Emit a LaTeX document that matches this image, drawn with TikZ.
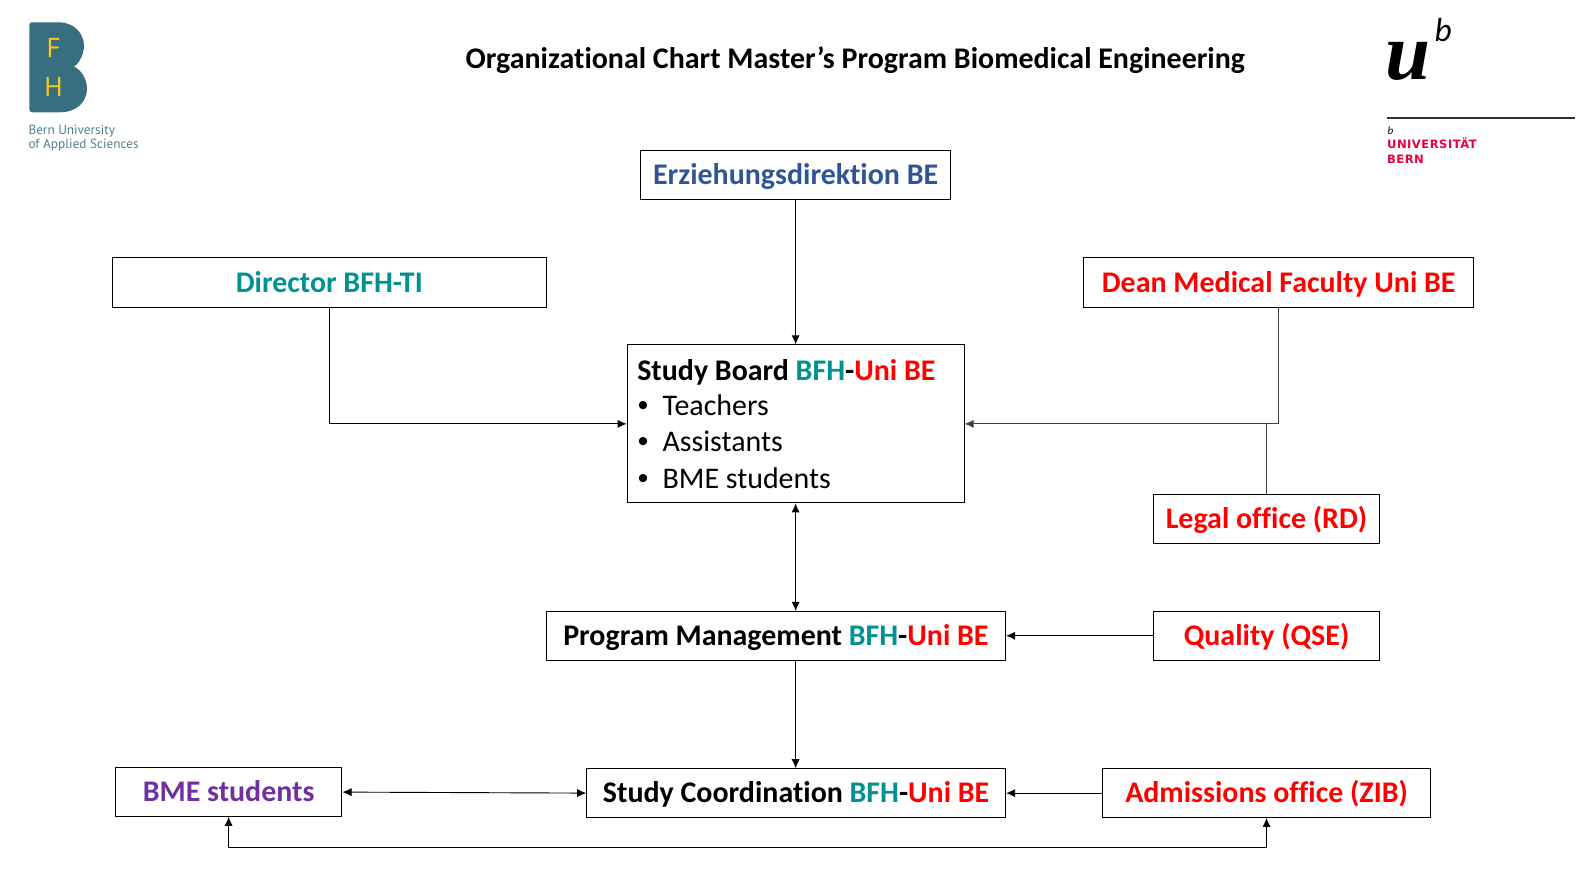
\documentclass[tikz,border=0pt]{standalone}
\usepackage{fontspec}
\usetikzlibrary{arrows.meta,calc}
\setmainfont[Ligatures=NoCommon]{Carlito}
\newfontfamily\logoserif{Liberation Serif}
\newfontfamily\logosans[LetterSpace=4.5]{DejaVu Sans}
\newfontfamily\fhsans{PT Sans}
\newfontfamily\bulletfont{Liberation Sans}
\definecolor{bfhteal}{HTML}{009191}
\definecolor{ubred}{HTML}{FF0000}
\definecolor{edblue}{HTML}{2F5597}
\definecolor{stpurple}{HTML}{7030A0}
\definecolor{fhlogo}{HTML}{376E80}
\definecolor{fhyellow}{HTML}{F8C61E}
\definecolor{fhtext}{HTML}{4F7F8F}
\definecolor{ublogored}{HTML}{E8003D}
\definecolor{graylink}{HTML}{404040}
\newcommand{\bfhuni}{\textcolor{bfhteal}{BFH}-\textcolor{ubred}{Uni BE}}
\newcommand{\bitem}[1]{\makebox[25pt][l]{\hspace{0.5pt}{\bulletfont •}}#1}
\tikzset{
  orgbox/.style={draw=black,line width=1pt,fill=white,inner sep=0pt,align=center,
    text height=25pt,text depth=6pt,font=\fontsize{29.6}{34}\selectfont\bfseries},
  link/.style={line width=0.9pt,draw=black,-{Latex[length=9pt,width=8pt]}},
  biglink/.style={line width=0.9pt,draw=black,{Latex[length=9pt,width=8pt]}-{Latex[length=9pt,width=8pt]}},
  plainlink/.style={line width=1pt,draw=graylink},
  logotext/.style={inner sep=0pt,anchor=base west,align=left}
}
\begin{document}
\begin{tikzpicture}[x=1pt,y=-1pt]
\useasboundingbox (0,0) rectangle (1567.8,876.8);
% BFH logo
\fill[fhlogo] (32,22) -- (58,22) .. controls (73,22) and (83,33) .. (83,45)
  .. controls (83,53) and (79,62) .. (73,66)
  .. controls (81,69) and (86,79) .. (86,88)
  .. controls (86,101) and (75,111) .. (60,111)
  -- (32,111) .. controls (30,111) and (29,110) .. (29,108) -- (29,25)
  .. controls (29,23) and (30,22) .. (32,22) -- cycle;
\node[inner sep=0pt,text=fhyellow,font=\fhsans\fontsize{27}{27}\selectfont] (fhf) at (53,47.5) {F};
\node[inner sep=0pt,text=fhyellow,font=\fhsans\fontsize{27}{27}\selectfont] (fhh) at (53,85.5) {H};
\node[logotext,text=fhtext,font=\fhsans\fontsize{13.1}{13.1}\selectfont] (fht1) at (28,132.5) {Bern University};
\node[logotext,text=fhtext,font=\fhsans\fontsize{13.1}{13.1}\selectfont] (fht2) at (28,147) {of Applied Sciences};
% Uni Bern logo
\node[logotext,font=\logoserif\fontsize{80}{80}\selectfont\bfseries\itshape] (ulogo) at (1369,79) {u};
\node[logotext,font=\fontsize{33}{33}\selectfont\itshape] (blogo) at (1418,41) {b};
\draw[line width=2pt,color=black!80] (1371,117) -- (1557,117);
\node[logotext,font=\fontsize{11}{11}\selectfont\itshape] (bsmall) at (1371.5,132.5) {b};
\node[logotext,text=ublogored,font=\logosans\fontsize{11.4}{11.4}\selectfont\bfseries] (uni) at (1371,147) {UNIVERSITÄT};
\node[logotext,text=ublogored,font=\logosans\fontsize{11.4}{11.4}\selectfont\bfseries] (bern) at (1371,162) {BERN};
% Title
\node[inner sep=0pt,text height=25pt,text depth=6pt,font=\fontsize{29.6}{34}\selectfont\bfseries] (title) at (845.5,58.5) {Organizational Chart Master’s Program Biomedical Engineering};
% Boxes
\node[orgbox,minimum width=307pt,minimum height=48pt,text=edblue] (erz) at (786.5,173) {Erziehungsdirektion BE};
\node[orgbox,minimum width=429pt,minimum height=49pt,text=bfhteal] (dir) at (325.5,279.5) {Director BFH-TI};
\node[orgbox,minimum width=386pt,minimum height=49pt,text=ubred] (dean) at (1264,279.5) {Dean Medical Faculty Uni BE};
\node[draw=black,line width=1pt,inner sep=0pt,minimum width=333pt,minimum height=156pt,
  text width=313pt,align=flush left,font=\fontsize{29.6}{35.8}\selectfont] (sb) at (786.5,419)
  {{\bfseries Study Board \bfhuni}\\[-1pt]\bitem{Teachers}\\\bitem{Assistants}\\\bitem{BME students}\par\vspace*{3pt}};
\node[orgbox,minimum width=224pt,minimum height=48pt,text=ubred] (legal) at (1252,513) {Legal office (RD)};
\node[orgbox,minimum width=454pt,minimum height=48pt] (pm) at (767,628.5) {Program Management \bfhuni};
\node[orgbox,minimum width=224pt,minimum height=48pt,text=ubred] (qual) at (1252,628.5) {Quality (QSE)};
\node[orgbox,minimum width=414pt,minimum height=48pt] (sc) at (787,784) {Study Coordination \bfhuni};
\node[orgbox,minimum width=324pt,minimum height=48pt,text=ubred] (adm) at (1252,784) {Admissions office (ZIB)};
\node[orgbox,minimum width=224pt,minimum height=48pt,text=stpurple] (bme) at (226,783) {BME students};
% Connectors
\draw[link] (erz.south) -- (sb.north);
\draw[link] (dir.south) |- (sb.west);
\draw[link,draw=graylink,line width=1pt] (dean.south) |- (sb.east);
\draw[plainlink] (legal.north) -- (legal.north |- sb.east);
\draw[biglink] (sb.south) -- (sb.south |- pm.north);
\draw[link] (sb.south |- pm.south) -- (sb.south |- sc.north);
\draw[link] (qual.west) -- (pm.east);
\draw[link] (adm.west) -- (sc.east);
\draw[biglink] (bme.east) -- (sc.west);
\draw[biglink] (bme.south) -- ++(0,30) -| (adm.south);
\end{tikzpicture}
\end{document}
